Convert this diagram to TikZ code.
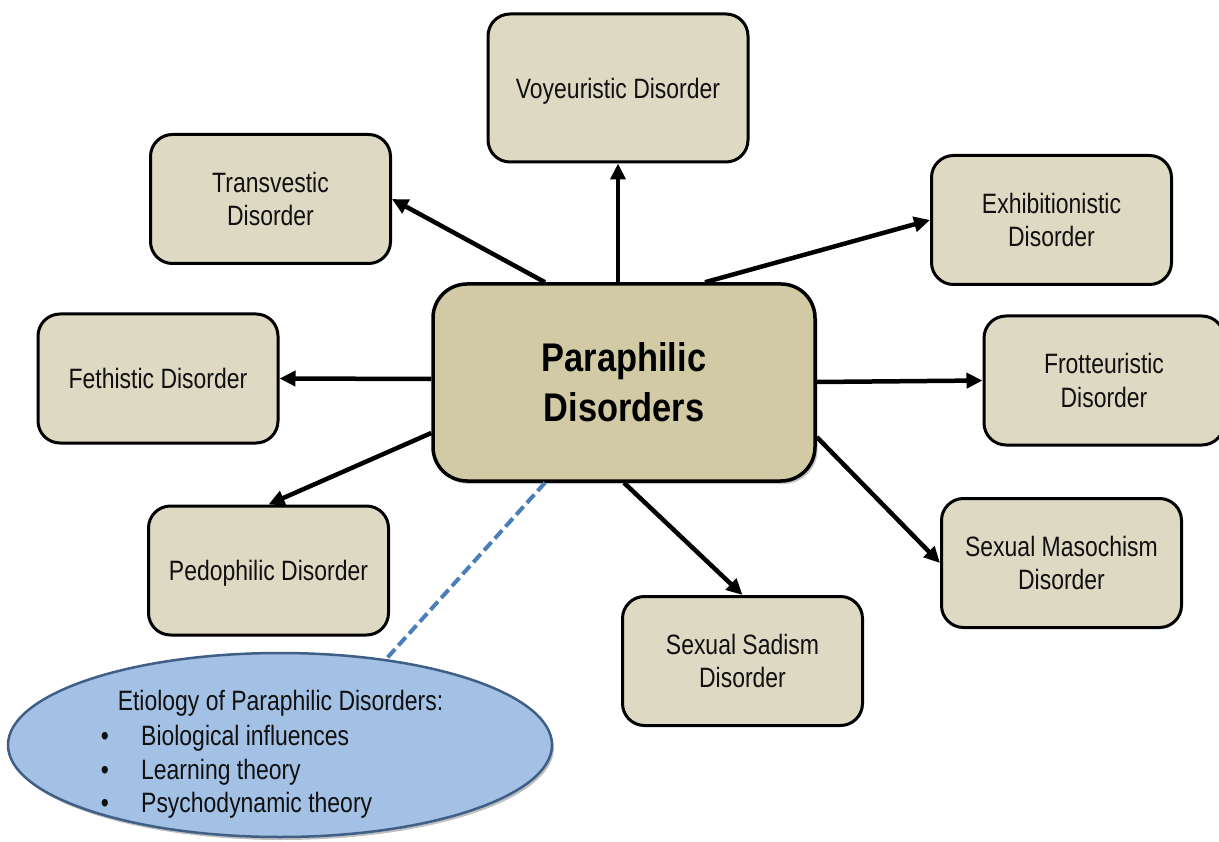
\documentclass[tikz,border=0pt]{standalone}
\usepackage{fontspec}
\newfontfamily\boxfont[FakeStretch=0.82]{Liberation Sans}
\newfontfamily\titlefont[FakeStretch=0.86]{Liberation Sans Bold}
\usetikzlibrary{arrows.meta,shapes.geometric,shadows}
\definecolor{tanfill}{HTML}{DDD9C3}
\definecolor{hubfill}{HTML}{D2CAA5}
\definecolor{etiofill}{HTML}{A3C0E5}
\definecolor{etioedge}{HTML}{3F5F86}
\definecolor{dashblue}{HTML}{4A7EBB}
\definecolor{inkblack}{HTML}{101010}
\begin{document}
\begin{tikzpicture}[x=1pt,y=-1pt,
  disorder/.style={rectangle, rounded corners=22pt, draw=black, line width=3pt,
    fill=tanfill, minimum width=240pt, minimum height=129pt, inner sep=0pt,
    text depth=0pt, align=center, text=inkblack,
    font=\boxfont\fontsize{28}{33.5}\selectfont},
  hub/.style={rectangle, rounded corners=34pt, draw=black, line width=3.5pt,
    fill=hubfill, minimum width=382pt, minimum height=197pt, inner sep=0pt,
    align=center, text=black, font=\titlefont\fontsize{40}{50}\selectfont,
    drop shadow={shadow xshift=2.5pt, shadow yshift=-3pt, opacity=0.45}},
  etio/.style={ellipse, draw=etioedge, line width=2.5pt, fill=etiofill,
    minimum width=544pt, minimum height=184pt, inner sep=0pt,
    drop shadow={shadow xshift=2pt, shadow yshift=-3pt, opacity=0.5}},
  etiotext/.style={inner sep=0pt, text=inkblack, font=\boxfont\fontsize{28}{33.5}\selectfont},
  link/.style={draw=black, line width=4.5pt, -{Triangle[length=16pt,width=15pt]}},
  aside/.style={draw=dashblue, line width=4pt, dash pattern=on 11pt off 5pt},
]
\clip (0,0) rectangle (1219,842);

% central topic
\node[hub] (hub) at (624,382.5) {Paraphilic\\Disorders};

% the disorders around it
\node[disorder, minimum width=260pt, minimum height=148pt] (voy) at (618,88) {Voyeuristic Disorder};
\node[disorder] (trans)  at (270.5,199) {Transvestic\\Disorder};
\node[disorder] (exhib)  at (1051.5,220) {Exhibitionistic\\Disorder};
\node[disorder] (fet)    at (158,378.5) {Fethistic Disorder};
\node[disorder] (frot)   at (1104,380.5) {Frotteuristic\\Disorder};
\node[disorder] (pedo)   at (268.5,570.5) {Pedophilic Disorder};
\node[disorder] (sadism) at (742.5,661) {Sexual Sadism\\Disorder};
\node[disorder] (maso)   at (1061.5,563) {Sexual Masochism\\Disorder};

% etiology note
\node[etio] (etio) at (280,745) {};
\node[etiotext, anchor=base] (etiohead) at (280.5,710) {Etiology of Paraphilic Disorders:};
\node[etiotext, anchor=base] (bul1) at (105,745) {•};
\node[etiotext, anchor=base] (bul2) at (105,779) {•};
\node[etiotext, anchor=base] (bul3) at (105,812) {•};
\node[etiotext, anchor=base west] (item1) at (141,745) {Biological influences};
\node[etiotext, anchor=base west] (item2) at (141,779) {Learning theory};
\node[etiotext, anchor=base west] (item3) at (141,812) {Psychodynamic theory};

% connectors
\draw[link] ([xshift=-6pt]hub.north) -- (voy.south);
\draw[link] ([xshift=-79pt]hub.north) -- (trans.east);
\draw[link] ([xshift=81pt]hub.north) -- (exhib.west);
\draw[link] ([yshift=3.5pt]hub.west) -- (fet.east);
\draw[link] ([yshift=-50.5pt]hub.west) -- (pedo.north);
\draw[link] ([yshift=0.5pt]hub.east) -- (frot.west);
\draw[link] ([yshift=-54.5pt]hub.east) -- (maso.west);
\draw[link] (hub.south) -- (sadism.north);
\draw[aside] ([xshift=-79pt]hub.south) -- (etio.39);
\end{tikzpicture}
\end{document}
